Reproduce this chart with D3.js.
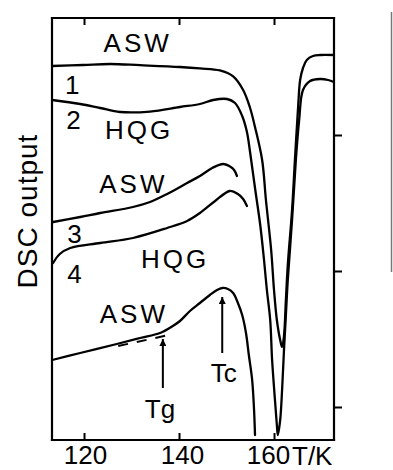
<!DOCTYPE html>
<html>
<head>
<meta charset="utf-8">
<script src="https://cdn.jsdelivr.net/npm/d3@7"></script>
<style>
  html, body { margin: 0; padding: 0; background: #fff; }
  svg { display: block; }
  text { font-family: "Liberation Sans", Arial, Helvetica, sans-serif; fill: #000; }
</style>
</head>
<body>
<svg id="chart" width="393" height="470"></svg>
<script>
// Temperature ticks (K)
const tTicks = [120, 140, 160];
// DSC output (arbitrary units): minor marks on the right frame
const dscTicks = [16.5, 84.5, 152.5];

// Trace 1: ASW, first heating
const trace1T = [113.3, 119.8, 125.5, 131.8, 140.2, 144.4, 148.6, 151.4, 153.5, 154.9, 156.0, 157.5, 158.3, 159.4, 160.0, 160.6, 161.3, 161.7, 162.1, 162.5, 162.9, 163.8, 164.4, 165.1, 165.5, 166.1, 166.9, 168.2, 169.7, 172.6];
const trace1V = [187, 187.5, 188, 187.4, 186.5, 185.8, 184.8, 181.8, 175, 166.5, 156.5, 140, 120, 95, 75, 60, 50, 46.5, 52, 70, 87.5, 115, 140, 167.5, 180, 186, 190, 192, 192.5, 192.5];

// Trace 2: HQG
const trace2T = [113.3, 119.2, 123.4, 127.6, 133.9, 140.2, 144.4, 147.2, 150.1, 151.8, 153.3, 154.3, 154.9, 156.0, 157.1, 157.9, 158.5, 159.2, 159.6, 160.2, 160.6, 160.8, 161.3, 161.7, 162.1, 162.5, 162.9, 163.8, 164.6, 165.3, 166.1, 167.6, 169.7, 171.4, 172.6];
const trace2V = [170, 168, 166, 164, 164.2, 166.5, 168, 170, 170.5, 168.5, 162, 154, 145, 126, 107.5, 90, 75, 60, 40, 20, 7.5, 2.5, 10, 25, 45, 62.5, 80, 110, 140, 160, 175, 179.5, 180.5, 180, 179];

// Trace 3: ASW, interrupted run
const trace3T = [113.5, 119.2, 123.4, 130.3, 133.9, 137.5, 141.7, 144.4, 147.0, 149.3, 150.9, 151.6, 152.2];
const trace3V = [109, 111.5, 113.5, 116.5, 119, 123, 128.5, 132, 136, 138, 136.5, 135, 132];

// Trace 4: HQG, interrupted run
const trace4T = [113.5, 114.9, 117.1, 123.4, 130.3, 137.5, 141.7, 144.4, 147.6, 150.7, 152.4, 153.5, 154.3];
const trace4V = [88.5, 93, 96, 98.5, 101, 106, 109.5, 113.5, 119.5, 124.5, 123, 120.5, 117];

// Lowest trace: ASW with glass transition and crystallization
const trace5T = [113.3, 119.2, 126.9, 131.8, 136.0, 138.7, 140.2, 142.3, 144.4, 146.5, 148.0, 149.1, 150.3, 151.4, 152.4, 153.3, 154.1, 154.7, 155.4, 155.8, 156.0];
const trace5V = [40, 43.5, 48, 51, 53.5, 57, 59.5, 64.5, 68.5, 72.5, 75, 76, 75.5, 73.5, 68.5, 62.5, 53.5, 42.5, 30, 15, 2.5];

// Extrapolated glassy baseline (dashed)
const baselineT = [127.2, 137.3];
const baselineV = [47, 52.2];

// Tg and Tc markers
const markerNames = ["Tg", "Tc"];
const markerT = [136.6, 149.1];
const markerFromV = [26, 43.5];
const markerToV = [50.5, 71.5];

// Curve labels
const labelText = ["ASW", "1", "2", "HQG", "ASW", "3", "4", "HQG", "ASW", "Tg", "Tc"];
const labelT = [131.3, 117.5, 117.8, 131.6, 130.4, 118.0, 118.0, 139.2, 130.5, 136.0, 149.4];
const labelV = [194, 173, 155.5, 150.5, 123.5, 98.5, 78.5, 86, 58.5, 11, 29];

const svg = d3.select("#chart");
const box = { left: 52, top: 18, right: 334, bottom: 440 };

const x = d3.scaleLinear().domain([113.26, 172.63]).range([box.left, box.right]);
const y = d3.scaleLinear().domain([0, 211]).range([box.bottom, box.top]);

const line = d3.line()
  .x(d => x(d[0]))
  .y(d => y(d[1]))
  .curve(d3.curveCatmullRom.alpha(0.5));

const zip = (a, b) => a.map((v, i) => [v, b[i]]);

// Frame: one line per side
const [xa, xb] = x.range();
const [yb, ya] = y.range();
const sides = [
  [xa, ya, xb, ya],
  [xb, ya, xb, yb],
  [xa, yb, xb, yb],
  [xa, ya, xa, yb]
];
svg.append("g").attr("class", "frame")
  .selectAll("line")
  .data(sides)
  .join("line")
  .attr("x1", d => d[0]).attr("y1", d => d[1])
  .attr("x2", d => d[2]).attr("y2", d => d[3])
  .attr("stroke", "#000")
  .attr("stroke-width", 2.2)
  .attr("stroke-linecap", "square");

// Bottom axis: inward ticks, labels below
const tickShift = { 120: 1, 140: 3, 160: -6 };
const xAxis = svg.append("g")
  .attr("transform", `translate(0,${box.bottom})`)
  .call(d3.axisBottom(x).tickValues(tTicks).tickSizeInner(-7).tickSizeOuter(0).tickPadding(6));
xAxis.select(".domain").remove();
xAxis.selectAll("line").attr("stroke", "#000").attr("stroke-width", 2);
xAxis.selectAll("text")
  .attr("font-size", 26)
  .attr("font-family", "'Liberation Sans', Arial, sans-serif")
  .attr("fill", "#000")
  .attr("dx", d => tickShift[d]);

svg.append("text")
  .attr("x", 292).attr("y", 465)
  .attr("font-size", 26)
  .text("T/K");

// Top axis: inward ticks only
const xTop = svg.append("g")
  .attr("transform", `translate(0,${box.top})`)
  .call(d3.axisTop(x).tickValues(tTicks).tickSizeInner(-7).tickSizeOuter(0).tickFormat(""));
xTop.select(".domain").remove();
xTop.selectAll("line").attr("stroke", "#000").attr("stroke-width", 2);

// Right axis: outward marks
const yRight = svg.append("g")
  .attr("transform", `translate(${box.right},0)`)
  .call(d3.axisRight(y).tickValues(dscTicks).tickSizeInner(8).tickSizeOuter(0).tickFormat(""));
yRight.select(".domain").remove();
yRight.selectAll("line").attr("stroke", "#000").attr("stroke-width", 2);

// Y label
svg.append("text")
  .attr("transform", "translate(37,211) rotate(-90)")
  .attr("text-anchor", "middle")
  .attr("font-size", 28)
  .attr("letter-spacing", 1)
  .text("DSC output");

// Traces
const traces = [
  zip(trace1T, trace1V),
  zip(trace2T, trace2V),
  zip(trace3T, trace3V),
  zip(trace4T, trace4V),
  zip(trace5T, trace5V)
];
svg.append("g").selectAll("path")
  .data(traces)
  .join("path")
  .attr("d", line)
  .attr("fill", "none")
  .attr("stroke", "#000")
  .attr("stroke-width", 2.3)
  .attr("stroke-linejoin", "round")
  .attr("stroke-linecap", "round");

// Dashed baseline
svg.append("path")
  .attr("d", d3.line().x(d => x(d[0])).y(d => y(d[1]))(zip(baselineT, baselineV)))
  .attr("fill", "none")
  .attr("stroke", "#000")
  .attr("stroke-width", 2)
  .attr("stroke-dasharray", "10,9");

// Arrows
const defs = svg.append("defs");
defs.append("marker")
  .attr("id", "head")
  .attr("viewBox", "0 0 10 10")
  .attr("refX", 10).attr("refY", 5)
  .attr("markerWidth", 16).attr("markerHeight", 7)
  .attr("markerUnits", "userSpaceOnUse")
  .attr("orient", "auto")
  .append("path")
  .attr("d", "M0,0 L10,5 L0,10 Z")
  .attr("fill", "#000");

svg.append("g").selectAll("line")
  .data(markerNames)
  .join("line")
  .attr("x1", (d, i) => x(markerT[i]))
  .attr("x2", (d, i) => x(markerT[i]))
  .attr("y1", (d, i) => y(markerFromV[i]))
  .attr("y2", (d, i) => y(markerToV[i]))
  .attr("stroke", "#000")
  .attr("stroke-width", 2)
  .attr("marker-end", "url(#head)");

// Labels
svg.append("g").selectAll("text")
  .data(labelText)
  .join("text")
  .attr("x", (d, i) => x(labelT[i]))
  .attr("y", (d, i) => y(labelV[i]))
  .attr("text-anchor", "middle")
  .attr("font-size", 26)
  .attr("letter-spacing", d => d.length === 3 ? 3 : 0)
  .text(d => d);

// Edge of the neighbouring panel
svg.append("line")
  .attr("x1", 391.5).attr("x2", 391.5)
  .attr("y1", 12).attr("y2", 272)
  .attr("stroke", "#777").attr("stroke-width", 1.5);
</script>
</body>
</html>
